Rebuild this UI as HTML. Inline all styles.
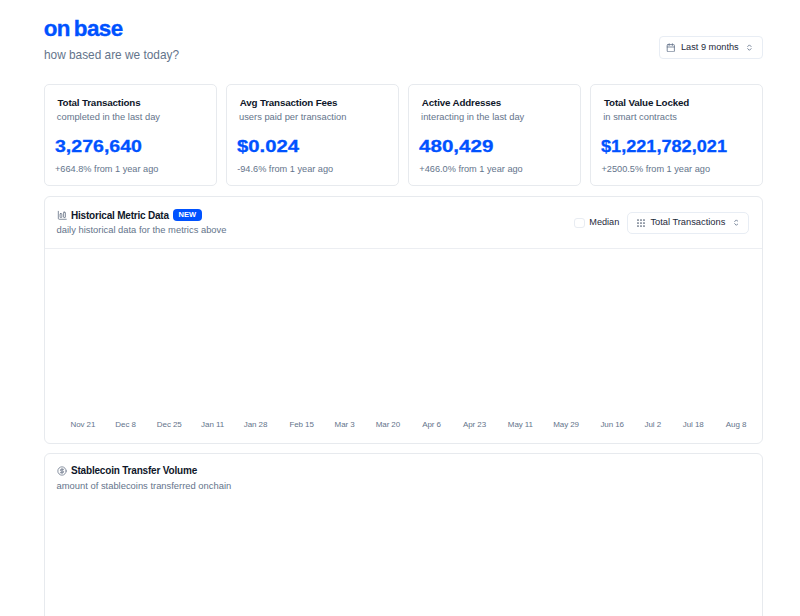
<!DOCTYPE html>
<html><head><meta charset="utf-8">
<style>
html,body{margin:0;padding:0;background:#fff;width:800px;height:616px;overflow:hidden;}
body{position:relative;font-family:"Liberation Sans",sans-serif;}
.t{position:absolute;white-space:nowrap;line-height:1;transform-origin:0 0;}
.card{position:absolute;box-sizing:border-box;border:1px solid #e7eaee;border-radius:5px;background:#fff;}
.ct{font-size:9.8px;font-weight:700;color:#0f172a;letter-spacing:-0.16px;}
.cs{font-size:9.33px;color:#64748b;}
.cn{font-size:17.4px;font-weight:700;color:#0052ff;-webkit-text-stroke:0.3px #0052ff;}
.cc{font-size:9.2px;color:#64748b;}
.ax{font-size:8px;letter-spacing:-0.08px;color:#64748b;text-align:center;width:40px;margin-left:-20px;}
</style></head><body>

<div class="t" style="left:43.7px;top:18.3px;font-size:22.4px;font-weight:700;color:#0052ff;letter-spacing:-0.55px;word-spacing:-1.8px;-webkit-text-stroke:0.35px #0052ff;">on base</div>
<div class="t" style="left:44px;top:50.4px;font-size:11.85px;color:#64748b;">how based are we today?</div>

<!-- date button -->
<div class="card" style="left:658.5px;top:36px;width:104.5px;height:23px;border-radius:4px;border-color:#e8edf4;"></div>
<svg style="position:absolute;left:665.9px;top:42.5px;" width="9.6" height="9.6" viewBox="0 0 24 24" fill="none" stroke="#64748b" stroke-width="2.1" stroke-linecap="round" stroke-linejoin="round"><rect x="3" y="4" width="18" height="18" rx="2"/><path d="M16 2v4M8 2v4M3 10h18"/></svg>
<div class="t" style="left:681px;top:42.7px;font-size:9.2px;color:#1e293b;">Last 9 months</div>
<svg style="position:absolute;left:747.1px;top:43.8px;" width="4.8" height="7.2" viewBox="0 0 6 9" fill="none" stroke="#64748b" stroke-width="1.1" stroke-linecap="round" stroke-linejoin="round"><path d="M0.9 3.2L3 1.1l2.1 2.1M0.9 5.8L3 7.9l2.1-2.1"/></svg>

<!-- stat cards -->
<div class="card" style="left:44px;top:84px;width:173px;height:102px;"></div>
<div class="card" style="left:226px;top:84px;width:173px;height:102px;"></div>
<div class="card" style="left:408px;top:84px;width:173px;height:102px;"></div>
<div class="card" style="left:590px;top:84px;width:173px;height:102px;"></div>

<div class="t ct" style="left:57.5px;top:97.7px;">Total Transactions</div>
<div class="t cs" style="left:56.8px;top:112.7px;">completed in the last day</div>
<div class="t cn" style="left:54.6px;top:137.5px;transform:scaleX(1.124);">3,276,640</div>
<div class="t cc" style="left:55px;top:165.2px;">+664.8% from 1 year ago</div>

<div class="t ct" style="left:239.67px;top:97.7px;">Avg Transaction Fees</div>
<div class="t cs" style="left:239px;top:112.7px;">users paid per transaction</div>
<div class="t cn" style="left:236.8px;top:137.5px;transform:scaleX(1.166);">$0.024</div>
<div class="t cc" style="left:237.2px;top:165.2px;">-94.6% from 1 year ago</div>

<div class="t ct" style="left:421.83px;top:97.7px;">Active Addresses</div>
<div class="t cs" style="left:421.1px;top:112.7px;">interacting in the last day</div>
<div class="t cn" style="left:419px;top:137.5px;transform:scaleX(1.183);">480,429</div>
<div class="t cc" style="left:419.3px;top:165.2px;">+466.0% from 1 year ago</div>

<div class="t ct" style="left:604px;top:97.7px;">Total Value Locked</div>
<div class="t cs" style="left:603.3px;top:112.7px;">in smart contracts</div>
<div class="t cn" style="left:601.1px;top:137.5px;transform:scaleX(1.042);">$1,221,782,021</div>
<div class="t cc" style="left:601.5px;top:165.2px;">+2500.5% from 1 year ago</div>

<!-- historical card -->
<div class="card" style="left:44px;top:196px;width:719px;height:248px;border-radius:6px;">
  <div style="position:absolute;left:0;right:0;top:51px;height:1px;background:#eceef2;"></div>
</div>

<svg style="position:absolute;left:56.8px;top:209.9px;" width="10.6" height="10.6" viewBox="0 0 24 24" fill="none" stroke="#6b7689" stroke-width="1.9" stroke-linecap="round" stroke-linejoin="round"><path d="M3 3v16a2 2 0 0 0 2 2h16"/><rect x="15" y="5" width="4" height="12" rx="1"/><rect x="7" y="8" width="4" height="9" rx="1"/></svg>
<div class="t" style="left:71px;top:210.7px;font-size:10px;font-weight:700;color:#0f172a;letter-spacing:-0.2px;">Historical Metric Data</div>
<div style="position:absolute;left:173.2px;top:209.3px;width:28.6px;height:11.3px;border-radius:4px;background:#0052ff;"></div>
<div class="t" style="left:178.6px;top:210.9px;font-size:7.5px;font-weight:700;color:#fff;letter-spacing:-0.05px;">NEW</div>
<div class="t" style="left:56.6px;top:225.9px;font-size:9.38px;color:#64748b;">daily historical data for the metrics above</div>

<div style="position:absolute;left:574.2px;top:217.9px;width:10.4px;height:10.4px;box-sizing:border-box;border:1px solid #e8ecf2;border-radius:3px;"></div>
<div class="t" style="left:589.3px;top:218px;font-size:9.15px;color:#1e293b;">Median</div>
<div class="card" style="left:626.8px;top:211.6px;width:122.6px;height:22px;border-radius:5px;border-color:#e8edf4;"></div>
<svg style="position:absolute;left:636.6px;top:218.8px;" width="8" height="8" viewBox="0 0 8 8" fill="#475569"><circle cx="1" cy="1" r="0.85"/><circle cx="4" cy="1" r="0.85"/><circle cx="7" cy="1" r="0.85"/><circle cx="1" cy="4" r="0.85"/><circle cx="4" cy="4" r="0.85"/><circle cx="7" cy="4" r="0.85"/><circle cx="1" cy="7" r="0.85"/><circle cx="4" cy="7" r="0.85"/><circle cx="7" cy="7" r="0.85"/></svg>
<div class="t" style="left:650.4px;top:218.4px;font-size:9.3px;color:#1e293b;">Total Transactions</div>
<svg style="position:absolute;left:733.6px;top:219px;" width="4.8" height="7.2" viewBox="0 0 6 9" fill="none" stroke="#64748b" stroke-width="1.1" stroke-linecap="round" stroke-linejoin="round"><path d="M0.9 3.2L3 1.1l2.1 2.1M0.9 5.8L3 7.9l2.1-2.1"/></svg>

<div class="t ax" style="left:82.9px;top:420.6px;">Nov 21</div>
<div class="t ax" style="left:125.6px;top:420.6px;">Dec 8</div>
<div class="t ax" style="left:169.25px;top:420.6px;">Dec 25</div>
<div class="t ax" style="left:212.6px;top:420.6px;">Jan 11</div>
<div class="t ax" style="left:255.6px;top:420.6px;">Jan 28</div>
<div class="t ax" style="left:301.6px;top:420.6px;">Feb 15</div>
<div class="t ax" style="left:344.6px;top:420.6px;">Mar 3</div>
<div class="t ax" style="left:387.9px;top:420.6px;">Mar 20</div>
<div class="t ax" style="left:431.5px;top:420.6px;">Apr 6</div>
<div class="t ax" style="left:474.5px;top:420.6px;">Apr 23</div>
<div class="t ax" style="left:520.4px;top:420.6px;">May 11</div>
<div class="t ax" style="left:566.1px;top:420.6px;">May 29</div>
<div class="t ax" style="left:612.2px;top:420.6px;">Jun 16</div>
<div class="t ax" style="left:652.75px;top:420.6px;">Jul 2</div>
<div class="t ax" style="left:693.25px;top:420.6px;">Jul 18</div>
<div class="t ax" style="left:736.1px;top:420.6px;">Aug 8</div>

<!-- stablecoin card -->
<div class="card" style="left:44px;top:453.3px;width:719px;height:300px;border-radius:6px;"></div>
<svg style="position:absolute;left:56.9px;top:465.8px;" width="10" height="10" viewBox="0 0 24 24" fill="none" stroke="#6b7689" stroke-width="1.9" stroke-linecap="round" stroke-linejoin="round"><circle cx="12" cy="12" r="10"/><path d="M16 8h-6a2 2 0 1 0 0 4h4a2 2 0 1 1 0 4H8"/><path d="M12 18V6"/></svg>
<div class="t" style="left:71px;top:466.1px;font-size:10px;font-weight:700;color:#0f172a;letter-spacing:-0.19px;">Stablecoin Transfer Volume</div>
<div class="t" style="left:56.6px;top:481.2px;font-size:9.4px;color:#64748b;">amount of stablecoins transferred onchain</div>

</body></html>
